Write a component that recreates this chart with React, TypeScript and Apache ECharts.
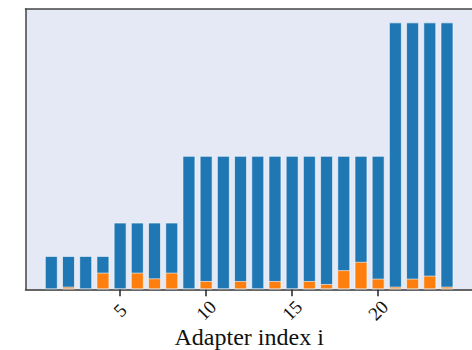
import React, { useEffect, useRef } from "react";
import * as echarts from "echarts";

const indices = Array.from({ length: 26 }, (_, i) => String(i));
const totalValues: (number | null)[] = [
  null,
  4, 4, 4, 4,
  8, 8, 8, 8,
  16, 16, 16, 16, 16, 16, 16, 16, 16, 16, 16, 16,
  32, 32, 32, 32,
  null,
];
const usedValues: (number | null)[] = [
  null,
  0, 0.32, 0, 2.0,
  0, 2.0, 1.32, 2.0,
  0, 1.0, 0, 1.0, 0, 1.0, 0, 1.0,
  0.64, 2.3, 3.3, 1.28,
  0.32, 1.28, 1.64, 0.32,
  null,
];
const tickLabels = ["5", "10", "15", "20"];
const xName = "Adapter index i";

export default function App() {
  const ref = useRef<HTMLDivElement>(null);
  useEffect(() => {
    if (!ref.current) return;
    const chart = echarts.init(ref.current, null, { renderer: "svg" });
    const showIdx = (_i: number, v: string) => tickLabels.includes(v);
    chart.setOption({
      animation: false,
      grid: {
        left: 25.5,
        top: 9,
        bottom: 60.7,
        right: 7.2,
        containLabel: false,
        outerBoundsMode: "none",
        show: true,
        backgroundColor: "#e4e9f5",
        borderWidth: 0,
      },
      xAxis: [
        {
          type: "category",
          data: indices,
          boundaryGap: true,
          name: xName,
          nameLocation: "middle",
          nameGap: 36,
          nameMoveOverlap: false,
          nameTextStyle: { fontFamily: "Liberation Serif", fontSize: 24, color: "#111" },
          axisLine: { show: true, lineStyle: { color: "#333", width: 1.5 } },
          axisTick: { show: true, alignWithLabel: true, interval: showIdx, length: 7, lineStyle: { color: "#222", width: 1.5 } },
          axisLabel: {
            interval: showIdx,
            rotate: 45,
            align: "center",
            verticalAlign: "middle",
            margin: 21,
            fontFamily: "Liberation Serif",
            fontSize: 19,
            color: "#111",
          },
          splitLine: { show: false },
        },
        {
          type: "category",
          data: indices,
          position: "top",
          axisLine: { show: true, lineStyle: { color: "#444", width: 1.5 } },
          axisTick: { show: false },
          axisLabel: { show: false },
          splitLine: { show: false },
        },
      ],
      yAxis: {
        type: "value",
        min: 0,
        max: 33.6,
        axisLine: { show: true, lineStyle: { color: "#444", width: 1.5 } },
        axisTick: { show: false },
        axisLabel: { show: false },
        splitLine: { show: false },
      },
      series: [
        {
          type: "bar",
          data: totalValues.map((v) => (v == null ? "-" : v)),
          barWidth: 13,
          barGap: "-100%",
          itemStyle: { color: "#1f77b4", borderColor: "rgba(255,255,255,0.6)", borderWidth: 1 },
        },
        {
          type: "bar",
          data: usedValues.map((v) => (v == null || v === 0 ? "-" : v)),
          barWidth: 13,
          barGap: "-100%",
          itemStyle: { color: "#ff7f0e", borderColor: "rgba(255,255,255,0.6)", borderWidth: 1 },
        },
      ],
    });
    return () => chart.dispose();
  }, []);
  return (
    <div style={{ width: 472, height: 350, position: "absolute", left: 0, top: 0, overflow: "hidden" }}>
      <div ref={ref} style={{ width: 480, height: 350 }} />
    </div>
  );
}
